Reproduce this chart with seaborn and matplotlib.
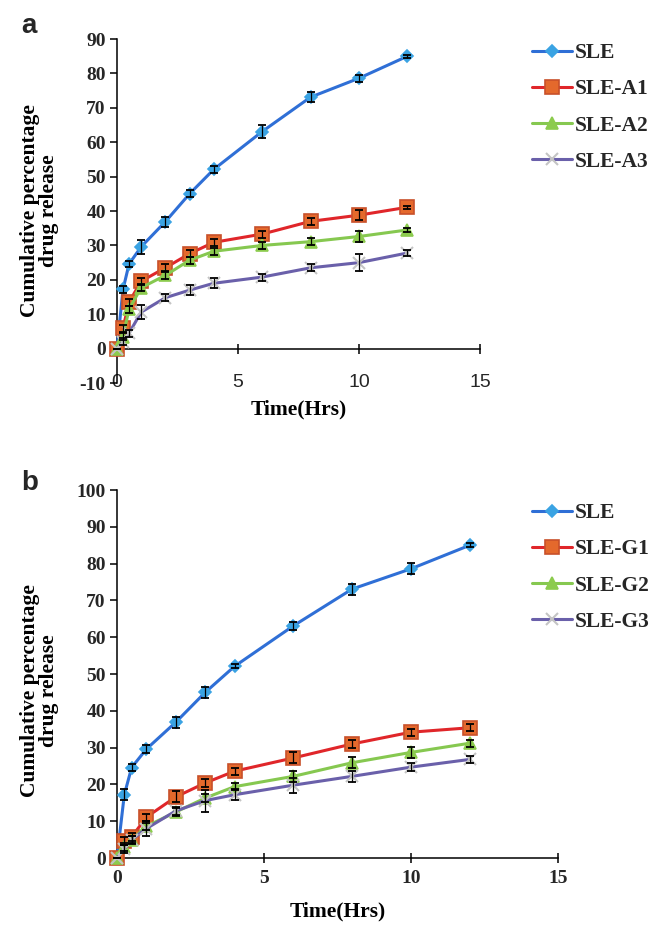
import numpy as np
import pandas as pd
import matplotlib
matplotlib.use("Agg")
import matplotlib.pyplot as plt
import seaborn as sns

# Sampling times (h)
time_h = [0, 0.25, 0.5, 1, 2, 3, 4, 6, 8, 10, 12]

# Panel a: SLE vs. SLE-A formulations (cumulative % released)
sle = [0, 17.2, 24.6, 29.6, 36.9, 45.0, 52.1, 63.1, 73.1, 78.6, 85.0]
sle_err_a = [0, 1.0, 1.0, 2.0, 1.5, 1.0, 1.0, 2.0, 1.5, 1.0, 0.5]
a1 = [0, 5.9, 13.5, 19.6, 23.5, 27.6, 30.9, 33.3, 37.0, 38.8, 41.1]
a1_err = [0, 1.0, 1.0, 1.0, 1.0, 1.0, 1.0, 1.0, 1.0, 1.5, 0.5]
a2 = [0, 3.5, 11.5, 17.7, 21.3, 25.7, 28.3, 30.0, 31.1, 32.6, 34.5]
a2_err = [0, 1.0, 1.0, 1.0, 1.0, 1.0, 1.0, 1.0, 1.0, 1.5, 0.5]
a3 = [0, 2.0, 4.5, 10.6, 14.8, 17.0, 19.0, 20.8, 23.5, 25.0, 27.8]
a3_err = [0, 1.0, 1.0, 2.0, 1.0, 1.5, 1.5, 1.0, 1.0, 2.5, 1.0]

# Panel b: SLE vs. SLE-G formulations
sle_err_b = [0, 1.5, 1.0, 1.0, 1.5, 1.5, 0.5, 1.0, 1.5, 1.5, 0.5]
g1 = [0, 4.6, 5.7, 11.1, 16.6, 20.4, 23.6, 27.2, 31.0, 34.2, 35.4]
g1_err = [0, 1.0, 1.0, 1.0, 1.5, 1.0, 1.0, 1.5, 1.0, 1.0, 1.0]
g2 = [0, 3.0, 4.9, 8.6, 12.5, 16.3, 19.4, 22.2, 25.9, 28.7, 31.2]
g2_err = [0, 1.0, 1.0, 1.0, 1.0, 1.0, 1.0, 1.5, 1.5, 1.5, 1.0]
g3 = [0, 2.5, 5.0, 8.0, 12.8, 15.6, 17.2, 19.8, 22.2, 24.7, 26.8]
g3_err = [0, 1.0, 1.0, 2.0, 1.0, 3.0, 1.5, 2.0, 1.5, 1.0, 1.0]

x_ticks = [0, 5, 10, 15]
y_ticks_a = list(range(-10, 91, 10))
y_ticks_b = list(range(0, 101, 10))

sns.set_theme(style="white")
plt.rcParams["font.family"] = ["Liberation Serif", "DejaVu Serif"]
plt.rcParams["axes.unicode_minus"] = False

SERIF = "Liberation Serif"
SANS = "Liberation Sans"

# (line colour, marker, marker face, marker edge, marker size)
styles = [
    ("#2f6fd6", "D", "#3aa3e3", "#3aa3e3", 6.5),
    ("#e0262a", "s", "#e4692c", "#c8502a", 10),
    ("#86c850", "^", "#8ccb4e", "#8ccb4e", 9),
    ("#6a60aa", "x", "#c4c4c4", "#c4c4c4", 9),
]

fig = plt.figure(figsize=(6.57, 9.25), dpi=100)
ax_a = fig.add_axes([0.178, 0.5859, 0.5525, 0.3719])
ax_b = fig.add_axes([0.178, 0.0724, 0.6712, 0.3978])


def draw_panel(ax, names, series, errors):
    frames = []
    for name, vals in zip(names, series):
        frames.append(pd.DataFrame({"time": time_h, "release": vals, "formulation": name}))
    df = pd.concat(frames, ignore_index=True)
    for (name, err), (lc, mk, mfc, mec, ms) in zip(zip(names, errors), styles):
        sub = df[df["formulation"] == name]
        sns.lineplot(data=sub, x="time", y="release", ax=ax, color=lc, linewidth=2.2,
                     marker=mk, markerfacecolor=mfc, markeredgecolor=mec,
                     markersize=ms, markeredgewidth=1.2 if mk != "x" else 1.5,
                     label=name, zorder=3, clip_on=False)
        ax.errorbar(sub["time"], sub["release"], yerr=err, fmt="none",
                    ecolor="black", elinewidth=0.9, capsize=3.0, capthick=1.3,
                    zorder=4, clip_on=False)


draw_panel(ax_a, ["SLE", "SLE-A1", "SLE-A2", "SLE-A3"],
           [sle, a1, a2, a3], [sle_err_a, a1_err, a2_err, a3_err])
draw_panel(ax_b, ["SLE", "SLE-G1", "SLE-G2", "SLE-G3"],
           [sle, g1, g2, g3], [sle_err_b, g1_err, g2_err, g3_err])

for ax in (ax_a, ax_b):
    for side in ("top", "right"):
        ax.spines[side].set_visible(False)
    for side in ("left", "bottom"):
        ax.spines[side].set_color("black")
        ax.spines[side].set_linewidth(1.1)
    ax.set_xlim(0, 15)
    ax.set_xticks(x_ticks)
    ax.tick_params(axis="y", direction="out", length=5, width=1.1, color="black",
                   left=True, labelsize=14, pad=3)
    ax.grid(False)

# Panel a: horizontal axis crosses at zero, labels along the bottom
ax_a.set_ylim(-10, 90)
ax_a.set_yticks(y_ticks_a)
ax_a.spines["bottom"].set_position(("data", 0))
ax_a.tick_params(axis="x", direction="inout", length=7, width=1.1, color="black",
                 bottom=True, labelsize=14, pad=15)
for lab in ax_a.get_xticklabels():
    lab.set_fontfamily(SANS)
    lab.set_fontweight("normal")

ax_b.set_ylim(0, 100)
ax_b.set_yticks(y_ticks_b)
ax_b.tick_params(axis="x", direction="inout", length=7, width=1.1, color="black",
                 bottom=True, labelsize=14, pad=5)
for lab in ax_b.get_xticklabels():
    lab.set_fontfamily(SERIF)
    lab.set_fontweight("bold")

for ax in (ax_a, ax_b):
    for lab in ax.get_yticklabels():
        lab.set_fontfamily(SERIF)
        lab.set_fontweight("bold")

label_kw = dict(fontsize=15.5, fontweight="bold", fontfamily=SERIF, color="black")
ax_a.set_ylabel("Cumulative percentage\ndrug release", linespacing=0.95, **label_kw)
ax_b.set_ylabel("Cumulative percentage\ndrug release", linespacing=0.95, **label_kw)
ax_a.yaxis.set_label_coords(-0.16, 0.50)
ax_b.yaxis.set_label_coords(-0.1315, 0.456)
ax_a.set_xlabel("Time(Hrs)", **label_kw)
ax_b.set_xlabel("Time(Hrs)", **label_kw)
ax_a.xaxis.set_label_coords(0.5, -0.049)
ax_b.xaxis.set_label_coords(0.5, -0.118)

legend_kw = dict(frameon=False, handlelength=1.85, handletextpad=0.15,
                 labelspacing=0.75, borderpad=0, borderaxespad=0,
                 prop={"family": SERIF, "weight": "bold", "size": 15.5},
                 bbox_transform=fig.transFigure, loc="upper left")
ax_a.legend(bbox_to_anchor=(0.81, 0.9535), **legend_kw)
ax_b.legend(bbox_to_anchor=(0.81, 0.4562), **legend_kw)

fig.text(0.033, 1 - 33 / 925, "a", fontsize=20, fontweight="bold", fontfamily=SANS)
fig.text(0.033, 1 - 490 / 925, "b", fontsize=20, fontweight="bold", fontfamily=SANS)

fig.savefig("out.png", dpi=100)
